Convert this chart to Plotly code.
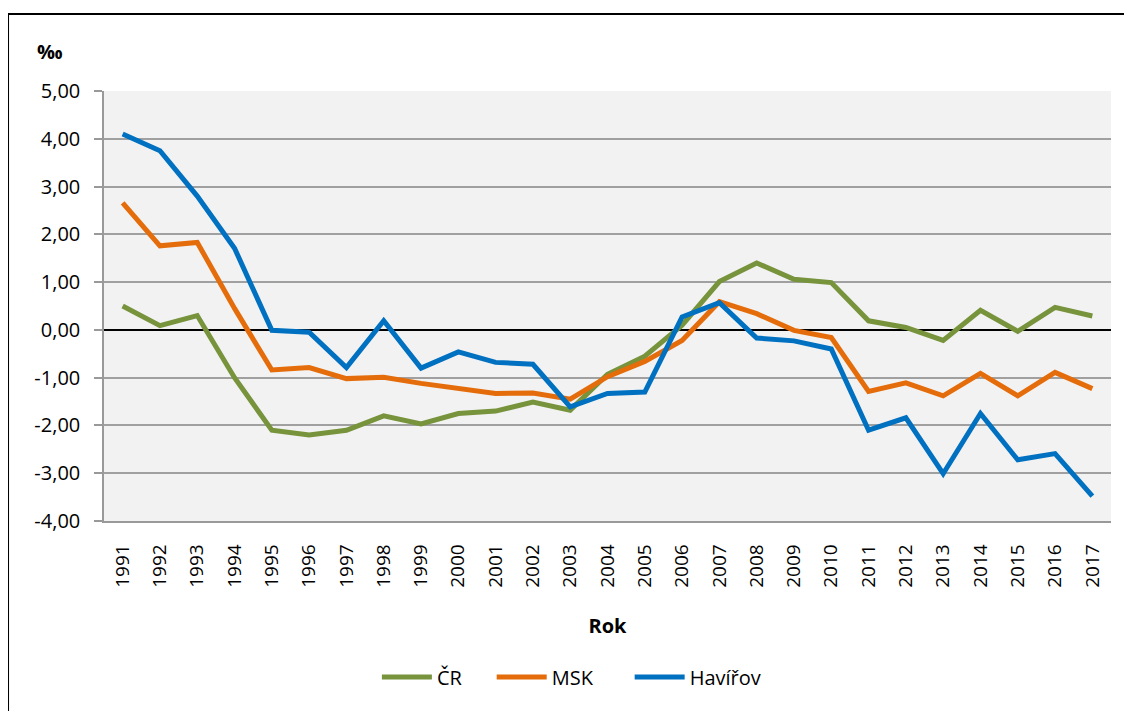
import plotly.graph_objects as go

years = [str(y) for y in range(1991, 2018)]
cr = [0.50, 0.09, 0.30, -1.00, -2.10, -2.20, -2.10, -1.80, -1.97, -1.75, -1.70, -1.51, -1.68,
      -0.93, -0.55, 0.10, 1.01, 1.40, 1.06, 0.99, 0.19, 0.05, -0.22, 0.41, -0.03, 0.47, 0.29]
msk = [2.66, 1.76, 1.83, 0.45, -0.84, -0.79, -1.02, -0.99, -1.12, -1.23, -1.33, -1.32, -1.45,
       -0.98, -0.66, -0.22, 0.59, 0.34, -0.01, -0.16, -1.29, -1.11, -1.38, -0.91, -1.38, -0.89, -1.23]
havirov = [4.10, 3.75, 2.80, 1.71, -0.01, -0.05, -0.79, 0.19, -0.80, -0.46, -0.68, -0.72, -1.61,
           -1.33, -1.30, 0.27, 0.57, -0.17, -0.23, -0.40, -2.10, -1.84, -3.01, -1.75, -2.72, -2.59, -3.48]
ytick_vals = [5, 4, 3, 2, 1, 0, -1, -2, -3, -4]
ytick_text = ["5,00", "4,00", "3,00", "2,00", "1,00", "0,00", "-1,00", "-2,00", "-3,00", "-4,00"]

series = [("ČR", cr, "#77933C", "legend", 0.271),
          ("MSK", msk, "#E46C0A", "legend2", 0.385),
          ("Havířov", havirov, "#0070C0", "legend3", 0.522)]

fig = go.Figure()
font = "Open Sans, DejaVu Sans, sans-serif"
legends = {}
for name, vals, col, lg, lx in series:
    fig.add_trace(go.Scatter(x=years, y=vals, name=name, mode="lines", legend=lg,
                             line=dict(color=col, width=5)))
    legends[lg] = dict(orientation="h", x=lx, y=-0.363, xanchor="left", yanchor="middle",
                       font=dict(size=20, family=font), itemwidth=50, bgcolor="rgba(0,0,0,0)")

fig.update_layout(
    width=1132, height=711,
    margin=dict(l=96, r=29, t=83, b=198),
    paper_bgcolor="white", plot_bgcolor="#F2F2F2",
    font=dict(family=font, size=19, color="black"),
    showlegend=True,
    xaxis=dict(type="category", tickangle=-90, showgrid=False, ticks="outside", ticklen=0,
               ticklabelstandoff=14, tickfont=dict(size=19),
               showline=True, linecolor="#999999", linewidth=1.5,
               title=dict(text="<b>Rok</b>", font=dict(size=20), standoff=32),
               range=[-0.5, 26.5]),
    yaxis=dict(range=[-4, 5], tickvals=ytick_vals, ticktext=ytick_text,
               showgrid=True, gridcolor="#A0A0A0", gridwidth=1.5,
               zeroline=True, zerolinecolor="black", zerolinewidth=1.5,
               showline=True, linecolor="#999999", linewidth=1.5,
               ticks="outside", ticklen=8, tickcolor="#999999", tickwidth=1.5,
               ticklabelstandoff=10, tickfont=dict(size=20)),
    **legends,
)
fig.add_annotation(text="<b>‰</b>", xref="paper", yref="paper", x=-0.054, y=1.091,
                   showarrow=False, font=dict(size=20), xanchor="center", yanchor="middle")
fig.add_shape(type="rect", xref="paper", yref="paper", x0=-0.0953, y0=-0.46, x1=1.03, y1=1.179,
              line=dict(color="black", width=2), fillcolor="rgba(0,0,0,0)", layer="below")
fig.write_html("out.html")
